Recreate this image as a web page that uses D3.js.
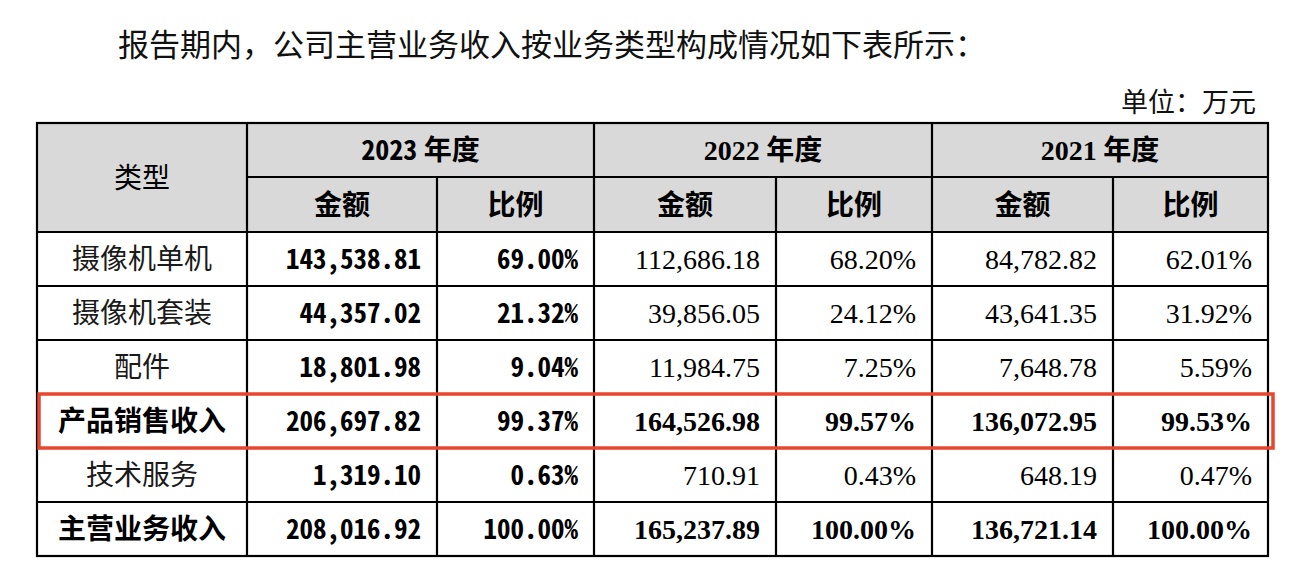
<!DOCTYPE html>
<html><head><meta charset="utf-8">
<script src="https://cdn.jsdelivr.net/npm/d3@7"></script>
<style>
html,body{margin:0;padding:0;background:#fff;}
svg{display:block;}
.hw{font-family:"Noto Sans CJK SC";font-feature-settings:"hwid" 1;}
.cjk{font-family:"Noto Sans CJK SC";}
.serif{font-family:"Liberation Serif","Noto Sans CJK SC";}
</style></head>
<body>
<script>
// ---- data ----
const title = "报告期内，公司主营业务收入按业务类型构成情况如下表所示：";
const unitLabel = "单位：万元";
const headerType = "类型";
const years = ["2023", "2022", "2021"];
const yearSuffix = "年度";
const subHeaders = ["金额", "比例"];
const categories = ["摄像机单机", "摄像机套装", "配件", "产品销售收入", "技术服务", "主营业务收入"];
const amount2023 = [143538.81, 44357.02, 18801.98, 206697.82, 1319.10, 208016.92];
const ratio2023  = [69.00, 21.32, 9.04, 99.37, 0.63, 100.00];
const amount2022 = [112686.18, 39856.05, 11984.75, 164526.98, 710.91, 165237.89];
const ratio2022  = [68.20, 24.12, 7.25, 99.57, 0.43, 100.00];
const amount2021 = [84782.82, 43641.35, 7648.78, 136072.95, 648.19, 136721.14];
const ratio2021  = [62.01, 31.92, 5.59, 99.53, 0.47, 100.00];
const boldRows = ["产品销售收入", "主营业务收入"];
const highlightRow = "产品销售收入";

// ---- layout ----
const W = 1310, H = 574;
const colEdges = [37, 247, 437, 594, 776, 932, 1113, 1268];
const headTop = 123, headMid = 177, headBot = 232, tableBot = 556;
const pad = 16;

const svg = d3.select("body").append("svg").attr("width", W).attr("height", H);

const yRow = d3.scaleBand().domain(categories).range([headBot, tableBot]).padding(0);
const yearBand = d3.scaleOrdinal().domain(years).range([[colEdges[1], colEdges[3]], [colEdges[3], colEdges[5]], [colEdges[5], colEdges[7]]]);

const fmtAmt = d3.format(",.2f");
const fmtPct = v => d3.format(".2f")(v) + "%";

// title & unit
svg.append("text").attr("class", "cjk").attr("x", 118).attr("y", 45).attr("dy", "0.36em")
  .attr("font-size", 31).attr("fill", "#111").text(title);
svg.append("text").attr("class", "cjk").attr("x", 1256).attr("y", 102).attr("dy", "0.36em")
  .attr("text-anchor", "end").attr("font-size", 27).attr("fill", "#111").text(unitLabel);

// header background
svg.append("rect").attr("x", colEdges[0]).attr("y", headTop)
  .attr("width", colEdges[7] - colEdges[0]).attr("height", headBot - headTop).attr("fill", "#d9d9d9");

// header texts
svg.append("text").attr("class", "cjk").attr("x", (colEdges[0] + colEdges[1]) / 2).attr("y", (headTop + headBot) / 2)
  .attr("dy", "0.36em").attr("text-anchor", "middle").attr("font-size", 28).attr("fill", "#000").text(headerType);

years.forEach((yr, i) => {
  const [x0, x1] = yearBand(yr);
  const t = svg.append("text").attr("x", (x0 + x1) / 2).attr("y", (headTop + headMid) / 2)
    .attr("dy", "0.36em").attr("text-anchor", "middle").attr("font-size", 28).attr("font-weight", 700).attr("fill", "#000");
  t.append("tspan").attr("class", i === 0 ? "hw" : "serif").text(yr);
  t.append("tspan").attr("class", "cjk").text(" " + yearSuffix);
  const xm = colEdges[2 + i * 2];
  [[x0, xm], [xm, x1]].forEach((r, j) => {
    svg.append("text").attr("class", "cjk").attr("x", (r[0] + r[1]) / 2).attr("y", (headMid + headBot) / 2)
      .attr("dy", "0.36em").attr("text-anchor", "middle").attr("font-size", 28).attr("font-weight", 700)
      .attr("fill", "#000").text(subHeaders[j]);
  });
});

// data rows
const series = [
  {vals: amount2023, fmt: fmtAmt, col: 2, style: "hw"},
  {vals: ratio2023, fmt: fmtPct, col: 3, style: "hw"},
  {vals: amount2022, fmt: fmtAmt, col: 4, style: "serif"},
  {vals: ratio2022, fmt: fmtPct, col: 5, style: "serif"},
  {vals: amount2021, fmt: fmtAmt, col: 6, style: "serif"},
  {vals: ratio2021, fmt: fmtPct, col: 7, style: "serif"}
];

const rows = svg.append("g").selectAll("g.row").data(categories).join("g").attr("class", "row");
rows.append("text").attr("class", "cjk")
  .attr("x", (colEdges[0] + colEdges[1]) / 2)
  .attr("y", d => yRow(d) + yRow.bandwidth() / 2)
  .attr("dy", "0.36em").attr("text-anchor", "middle").attr("font-size", 28)
  .attr("font-weight", d => boldRows.includes(d) ? 700 : 400)
  .attr("fill", d => boldRows.includes(d) ? "#000" : "#1a1a1a")
  .text(d => d);

series.forEach(s => {
  svg.append("g").selectAll("text").data(categories).join("text")
    .attr("class", s.style)
    .attr("x", colEdges[s.col] - pad)
    .attr("y", d => yRow(d) + yRow.bandwidth() / 2)
    .attr("dy", s.style === "hw" ? "0.37em" : "0.34em")
    .attr("text-anchor", "end")
    .attr("font-size", s.style === "hw" ? 27 : 28)
    .attr("font-weight", (d) => (s.style === "hw" || boldRows.includes(d)) ? 700 : 400)
    .attr("fill", "#000")
    .text((d, i) => s.fmt(s.vals[i]));
});

// grid lines
const lines = svg.append("g").attr("stroke", "#000").attr("stroke-width", 2.2).attr("fill", "none");
lines.append("rect").attr("x", colEdges[0]).attr("y", headTop)
  .attr("width", colEdges[7] - colEdges[0]).attr("height", tableBot - headTop);
lines.append("line").attr("x1", colEdges[1]).attr("x2", colEdges[7]).attr("y1", headMid).attr("y2", headMid);
lines.selectAll("line.rowline").data(categories).join("line").attr("class", "rowline")
  .attr("x1", colEdges[0]).attr("x2", colEdges[7])
  .attr("y1", d => yRow(d)).attr("y2", d => yRow(d));
[1, 3, 5].forEach(c => lines.append("line").attr("x1", colEdges[c]).attr("x2", colEdges[c]).attr("y1", headTop).attr("y2", tableBot));
[2, 4, 6].forEach(c => lines.append("line").attr("x1", colEdges[c]).attr("x2", colEdges[c]).attr("y1", headMid).attr("y2", tableBot));

// highlight box
svg.append("rect")
  .attr("x", colEdges[0] + 2).attr("y", yRow(highlightRow))
  .attr("width", colEdges[7] - colEdges[0] + 3).attr("height", yRow.bandwidth())
  .attr("fill", "none").attr("stroke", "#e8462e").attr("stroke-width", 3.5);
</script>
</body></html>
